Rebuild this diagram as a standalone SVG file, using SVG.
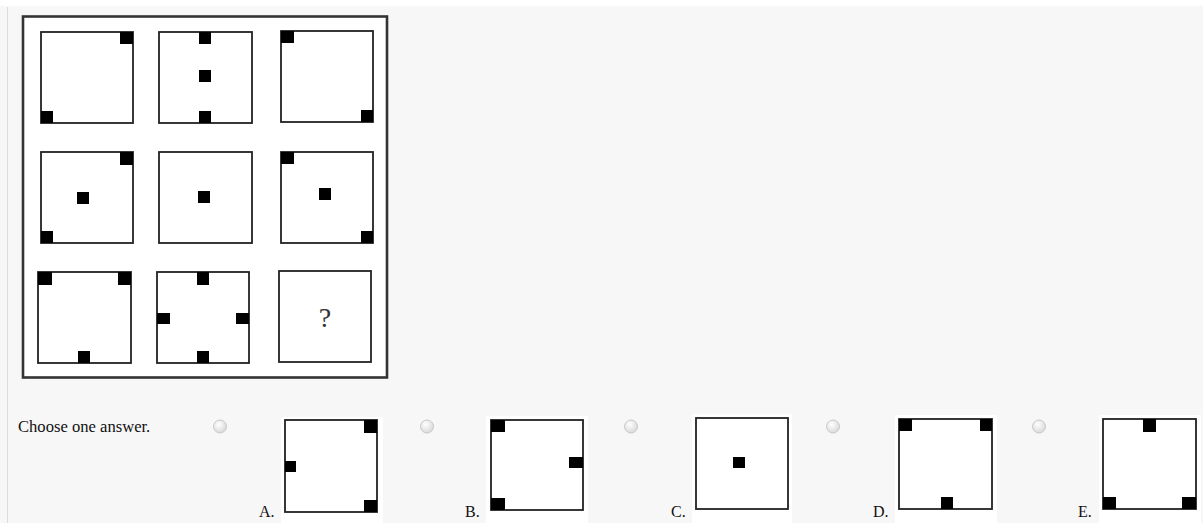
<svg xmlns="http://www.w3.org/2000/svg" width="1203" height="523" viewBox="0 0 1203 523">
<defs>
<style>
.cell{fill:#fff;stroke:#222;stroke-width:1.8}
.dot{fill:#000}
.lbl{font-family:"Liberation Serif","Times New Roman",serif;font-size:16px;fill:#111}
.txt{font-family:"Liberation Serif","Times New Roman",serif;font-size:16.6px;fill:#111}
.radio{fill:url(#rg);stroke:#c8c8c8;stroke-width:1}
</style>
<radialGradient id="rg" cx="0.4" cy="0.35" r="0.7">
<stop offset="0" stop-color="#ffffff"/>
<stop offset="1" stop-color="#d6d6d6"/>
</radialGradient>
</defs>
<rect x="0" y="0" width="1203" height="523" fill="#f7f7f7"/>
<rect x="0" y="0" width="1203" height="6" fill="#ffffff"/>
<line x1="7.5" y1="7" x2="7.5" y2="523" stroke="#dcdcdc" stroke-width="1"/>

<g id="puzzle">
<rect x="23" y="16.5" width="364" height="361" fill="#fff" stroke="#333" stroke-width="2.6"/>
<g id="r1c1"><rect class="cell" x="41" y="32" width="92" height="91"/><rect class="dot" x="120" y="32" width="13" height="12"/><rect class="dot" x="41" y="111" width="12" height="12"/></g>
<g id="r1c2"><rect class="cell" x="159" y="32" width="93" height="91"/><rect class="dot" x="199" y="32" width="12" height="12"/><rect class="dot" x="199" y="70" width="12" height="12"/><rect class="dot" x="199" y="111" width="12" height="12"/></g>
<g id="r1c3"><rect class="cell" x="281" y="31" width="92" height="91"/><rect class="dot" x="281" y="31" width="13" height="12"/><rect class="dot" x="361" y="110" width="12" height="12"/></g>
<g id="r2c1"><rect class="cell" x="41" y="152" width="92" height="91"/><rect class="dot" x="120" y="152" width="13" height="13"/><rect class="dot" x="77" y="192" width="12" height="12"/><rect class="dot" x="41" y="231" width="12" height="12"/></g>
<g id="r2c2"><rect class="cell" x="159" y="152" width="93" height="91"/><rect class="dot" x="198" y="191" width="12" height="12"/></g>
<g id="r2c3"><rect class="cell" x="281" y="152" width="92" height="91"/><rect class="dot" x="281" y="152" width="13" height="12"/><rect class="dot" x="319" y="188" width="12" height="12"/><rect class="dot" x="361" y="231" width="12" height="12"/></g>
<g id="r3c1"><rect class="cell" x="38" y="272" width="93" height="91"/><rect class="dot" x="38" y="272" width="14" height="13"/><rect class="dot" x="118" y="272" width="13" height="13"/><rect class="dot" x="78" y="351" width="12" height="12"/></g>
<g id="r3c2"><rect class="cell" x="157" y="272" width="92" height="91"/><rect class="dot" x="197" y="272" width="12" height="13"/><rect class="dot" x="157" y="313" width="13" height="11"/><rect class="dot" x="236" y="313" width="13" height="11"/><rect class="dot" x="197" y="351" width="12" height="12"/></g>
<g id="r3c3"><rect class="cell" x="279" y="271" width="92" height="91"/><text x="325" y="327" text-anchor="middle" font-family="Liberation Serif, Times New Roman, serif" font-size="28" fill="#333">?</text></g>
</g>

<text class="txt" x="18" y="432">Choose one answer.</text>

<g id="optA">
<circle class="radio" cx="220" cy="426.5" r="6.5"/>
<text class="lbl" x="259" y="517">A.</text>
<rect x="281" y="417" width="102" height="106" fill="#fff"/>
<rect class="cell" x="285" y="420" width="92" height="92"/>
<rect class="dot" x="364" y="420" width="13" height="13"/><rect class="dot" x="285" y="461" width="11" height="11"/><rect class="dot" x="364" y="500" width="13" height="12"/>
</g>
<g id="optB">
<circle class="radio" cx="427" cy="426.5" r="6.5"/>
<text class="lbl" x="465" y="517">B.</text>
<rect x="486" y="416" width="102" height="107" fill="#fff"/>
<rect class="cell" x="491" y="420" width="92" height="90"/>
<rect class="dot" x="491" y="420" width="14" height="12"/><rect class="dot" x="569" y="457" width="14" height="11"/><rect class="dot" x="491" y="498" width="14" height="12"/>
</g>
<g id="optC">
<circle class="radio" cx="631" cy="426.5" r="6.5"/>
<text class="lbl" x="671" y="517">C.</text>
<rect x="692" y="414" width="100" height="109" fill="#fff"/>
<rect class="cell" x="696" y="418" width="92" height="91"/>
<rect class="dot" x="733" y="457" width="12" height="11"/>
</g>
<g id="optD">
<circle class="radio" cx="833" cy="426.5" r="6.5"/>
<text class="lbl" x="873" y="517">D.</text>
<rect x="895" y="415" width="102" height="108" fill="#fff"/>
<rect class="cell" x="899" y="419" width="93" height="90"/>
<rect class="dot" x="899" y="419" width="13" height="12"/><rect class="dot" x="980" y="419" width="12" height="12"/><rect class="dot" x="941" y="497" width="12" height="12"/>
</g>
<g id="optE">
<circle class="radio" cx="1039" cy="426.5" r="6.5"/>
<text class="lbl" x="1078" y="517">E.</text>
<rect x="1099" y="415" width="102" height="108" fill="#fff"/>
<rect class="cell" x="1103" y="419" width="93" height="90"/>
<rect class="dot" x="1143" y="419" width="13" height="13"/><rect class="dot" x="1103" y="497" width="13" height="12"/><rect class="dot" x="1182" y="497" width="14" height="12"/>
</g>
</svg>
